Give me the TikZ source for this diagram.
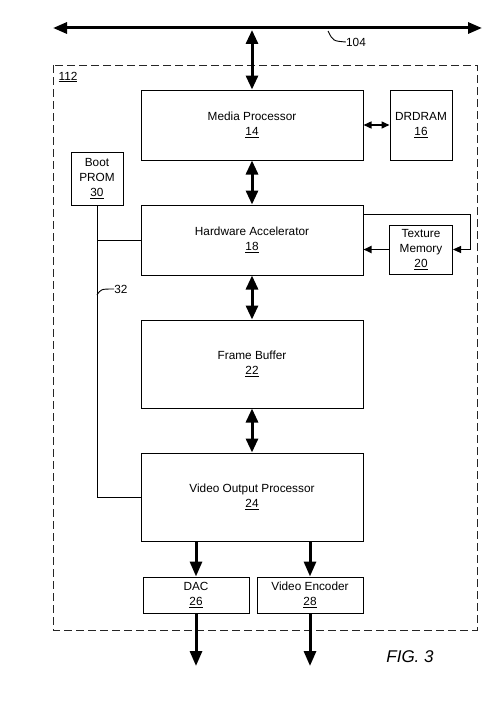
\documentclass[tikz,border=0pt]{standalone}
\usepackage{fontspec}
\setmainfont{Liberation Sans}
\usetikzlibrary{arrows.meta}
\begin{document}
\begin{tikzpicture}[x=1pt,y=-1pt,
  blk/.style={draw, line width=1pt, inner sep=0pt, align=center, font=\fontsize{11.8}{14.8}\selectfont},
  lbl/.style={inner sep=0pt, font=\fontsize{11.8}{14}\selectfont},
  bigbi/.style={line width=3pt, {Triangle[length=14pt,width=12pt]}-{Triangle[length=14pt,width=12pt]}},
  bigone/.style={line width=3pt, -{Triangle[length=15pt,width=12pt]}},
  smallone/.style={line width=1.8pt, -{Triangle[length=8pt,width=7pt]}},
  loopline/.style={line width=0.9pt, -{Triangle[length=8pt,width=7pt]}},
  smallbi/.style={line width=1.5pt, {Triangle[length=8pt,width=7pt]}-{Triangle[length=8pt,width=7pt]}},
  thinline/.style={line width=0.9pt},
  dashedbox/.style={draw, line width=0.9pt, black!85, dash pattern=on 8pt off 4pt}]
\useasboundingbox (0,0) rectangle (500,709);
% dashed enclosure 112
\draw[dashedbox] (53,65) rectangle (477,630);
\node[lbl] (l112) at (68,77) {\underline{112}};
% bus 104
\coordinate (busL) at (53,28);
\coordinate (busR) at (482,28);
\draw[line width=3pt, {Triangle[length=14pt,width=11pt]}-{Triangle[length=14pt,width=11pt]}] (busL) -- (busR);
\coordinate (busMP) at (252,30);
\coordinate (c104) at (328,31);
\node[lbl] (l104) at (356,42) {104};
\draw[thinline] (c104) .. controls (333,41) .. (l104.west);
% blocks
\node[blk, minimum width=222pt, minimum height=70pt] (mp) at (252,125) {Media Processor\\\underline{14}};
\node[blk, minimum width=62pt, minimum height=70pt] (dr) at (421,125) {DRDRAM\\\underline{16}};
\node[blk, minimum width=52pt, minimum height=53pt] (boot) at (97,178.5) {Boot\\PROM\\\underline{30}};
\node[blk, minimum width=222pt, minimum height=70pt] (ha) at (252,240) {Hardware Accelerator\\\underline{18}};
\node[blk, minimum width=63pt, minimum height=49pt] (tm) at (421,249.5) {Texture\\Memory\\\underline{20}};
\node[blk, minimum width=222pt, minimum height=88pt] (fb) at (252,364) {Frame Buffer\\\underline{22}};
\node[blk, minimum width=222pt, minimum height=88pt] (vop) at (252,497) {Video Output Processor\\\underline{24}};
\node[blk, minimum width=106pt, minimum height=36pt] (dac) at (196,595) {DAC\\\underline{26}};
\node[blk, minimum width=106pt, minimum height=36pt] (ve) at (310,595) {Video Encoder\\\underline{28}};
% main vertical arrows
\draw[bigbi] (busMP) -- (mp.north);
\draw[bigbi] (mp.south) -- (ha.north);
\draw[bigbi] (ha.south) -- (fb.north);
\draw[bigbi] (fb.south) -- (vop.north);
\draw[bigone] (vop.south -| dac.north) -- (dac.north);
\draw[bigone] (vop.south -| ve.north) -- (ve.north);
\coordinate (dacout) at (196,666);
\coordinate (veout) at (310,666);
\draw[bigone] (dac.south) -- (dacout);
\draw[bigone] (ve.south) -- (veout);
% side connections
\draw[smallbi] (mp.east) -- (dr.west);
\draw[smallone] (tm.west) -- (tm.west -| ha.east);
\coordinate (haR) at (363,214);
\coordinate (loop) at (470,214);
\draw[loopline] (haR) -- (loop) |- (tm.east);
% boot PROM bus 32
\coordinate (j1) at (boot.south |- ha.west);
\coordinate (j2) at (boot.south |- vop.west);
\draw[thinline] (boot.south) -- (j2) -- (vop.west);
\draw[thinline] (j1) -- (ha.west);
\coordinate (c32) at (97,295);
\node[lbl] (l32) at (121,289) {32};
\draw[thinline] (c32) .. controls (101,289) .. (l32.west);
% figure label
\node[inner sep=0pt, font=\fontsize{17}{20}\selectfont\itshape] (fig) at (410,657) {FIG. 3};
\end{tikzpicture}
\end{document}
